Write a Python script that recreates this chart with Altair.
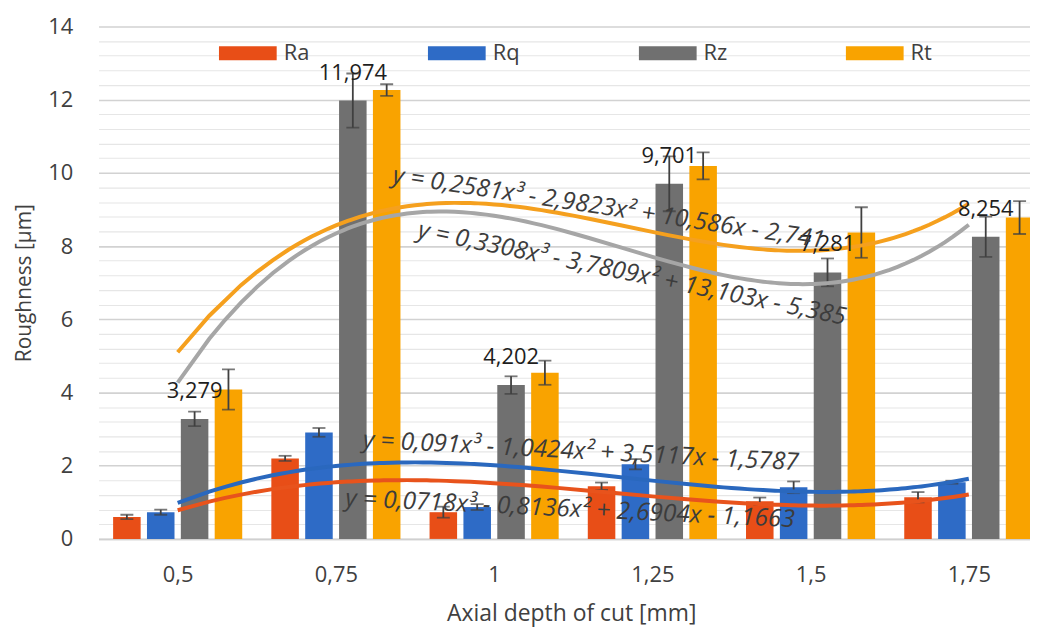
import altair as alt
import pandas as pd

# ---------------- data ----------------
depth_labels = ["0,5", "0,75", "1", "1,25", "1,5", "1,75"]
series_names = ["Ra", "Rq", "Rz", "Rt"]

ra = [0.60, 2.20, 0.73, 1.44, 1.03, 1.14]
rq = [0.73, 2.91, 0.87, 2.04, 1.41, 1.55]
rz = [3.279, 11.974, 4.202, 9.701, 7.281, 8.254]
rt = [4.08, 12.26, 4.54, 10.19, 8.37, 8.78]

ra_err = [0.06, 0.07, 0.15, 0.10, 0.10, 0.14]
rq_err = [0.07, 0.12, 0.08, 0.14, 0.16, 0.04]
rz_err = [0.20, 0.74, 0.24, 0.75, 0.38, 0.55]
rt_err = [0.55, 0.16, 0.33, 0.37, 0.69, 0.45]

equation_texts = [
    "y = 0,2581x³ - 2,9823x² + 10,586x - 2,741",
    "y = 0,3308x³ - 3,7809x² + 13,103x - 5,385",
    "y = 0,091x³ - 1,0424x² + 3,5117x - 1,5787",
    "y = 0,0718x³ - 0,8136x² + 2,6904x - 1,1663",
]
# annotation anchors in data units (category index, roughness) and angle
equation_x = [2.36, 2.52, 2.17, 2.06]
equation_y = [9.92, 8.43, 2.69, 1.09]
equation_angle = [8.6, 11.6, 3.0, 2.7]

y_ticks_minor = [round(i * 0.4, 1) for i in range(36)]

bar_colors = ["#E84E17", "#2E6BC6", "#707070", "#F9A300"]
trend_colors = ["#E8531C", "#2A68BE", "#A6A6A6", "#F5A01E"]

# ---------------- table ----------------
values = {"Ra": ra, "Rq": rq, "Rz": rz, "Rt": rt}
errors = {"Ra": ra_err, "Rq": rq_err, "Rz": rz_err, "Rt": rt_err}
rows = []
for s in series_names:
    for i, lab in enumerate(depth_labels):
        v = values[s][i]
        rows.append({
            "idx": i + 1,
            "depth": lab,
            "series": s,
            "value": v,
            "err": errors[s][i],
            "label": f"{v:.3f}".replace(".", ","),
        })
df = pd.DataFrame(rows)

eq_df = pd.DataFrame({
    "text": equation_texts,
    "ex": equation_x,
    "ey": equation_y,
    "ang": equation_angle,
})

FONT = "Open Sans"
STEP = 0.214     # offset between bars within a group (category units)
HALF = 0.087     # half bar width (category units)
X_DOMAIN = [0.5, 0.5 + 936 / 159]

xscale = alt.Scale(domain=X_DOMAIN, nice=False, zero=False)
yscale = alt.Scale(domain=[0, 14], nice=False, zero=True)

label_arr = "[" + ",".join(f"'{l}'" for l in depth_labels) + "]"
series_arr = "[" + ",".join(f"'{s}'" for s in series_names) + "]"

major_test = "abs(datum.value % 2) < 0.01 || abs(datum.value % 2 - 2) < 0.01"

x_axis = alt.Axis(
    values=[1, 2, 3, 4, 5, 6], tickCount=10,
    labelExpr=f"{label_arr}[datum.value - 1]",
    grid=False, ticks=False, tickSize=0,
    domainColor="#D0D0D0", domainWidth=1.5,
    labelFont=FONT, labelFontSize=22, labelColor="#404040",
    labelPadding=26, labelFlush=False, labelOverlap=False,
    title="Axial depth of cut [mm]", titleFont=FONT, titleFontSize=23,
    titleFontWeight="normal", titleColor="#404040",
    titleX=475, titleY=75, titleBaseline="middle", titleAlign="center",
)
y_axis = alt.Axis(
    values=y_ticks_minor, tickCount=40,
    labelExpr=f"({major_test}) ? format(datum.value, 'd') : ''",
    grid=True,
    gridColor={"condition": {"test": major_test, "value": "#D2D2D2"}, "value": "#E6E6E6"},
    gridWidth={"condition": {"test": major_test, "value": 1.6}, "value": 1.1},
    domain=False, ticks=False, tickSize=0,
    labelFont=FONT, labelFontSize=22, labelColor="#404040",
    labelPadding=26, labelOverlap=False, labelFlush=False,
    title="Roughness [µm]", titleFont=FONT, titleFontSize=21,
    titleFontWeight="normal", titleColor="#404040",
    titleX=-74, titleY=257.5, titleAngle=-90, titleBaseline="middle", titleAlign="center",
)

base = alt.Chart(df).transform_calculate(
    xc=f"datum.idx + (indexof({series_arr}, datum.series) - 1.5) * {STEP}",
).transform_calculate(
    x0=f"datum.xc - {HALF}",
    x1=f"datum.xc + {HALF}",
    lo="datum.value - datum.err",
    hi="datum.value + datum.err",
)

bars = base.mark_bar(clip=True).encode(
    x=alt.X("x0:Q", scale=xscale, axis=x_axis),
    x2="x1:Q",
    y=alt.Y("value:Q", scale=yscale, axis=y_axis),
    y2=alt.datum(0),
    color=alt.Color(
        "series:N",
        scale=alt.Scale(domain=series_names, range=bar_colors),
        legend=alt.Legend(
            orient="none", legendX=121, legendY=-2, direction="horizontal",
            title=None, symbolType="M-1,-0.24H1V0.24H-1Z", symbolSize=3364,
            symbolStrokeWidth=0, symbolOpacity=1,
            labelFont=FONT, labelFontSize=22, labelColor="#404040",
            labelOffset=7, columnPadding=119,
        ),
    ),
)

err_rule = base.mark_rule(color="#404040", strokeWidth=1.8, clip=True).encode(
    x="xc:Q", y="lo:Q", y2="hi:Q",
)
err_caps = base.transform_fold(["lo", "hi"], as_=["end", "yv"]).mark_tick(
    orient="horizontal", size=13, thickness=1.8, color="#404040", clip=True
).encode(x="xc:Q", y="yv:Q")

trend = alt.Chart(df).transform_regression(
    "idx", "value", groupby=["series"], method="poly", order=3, extent=[1, 6]
).mark_line(strokeWidth=4, clip=True).encode(
    x="idx:Q",
    y="value:Q",
    stroke=alt.Stroke("series:N", scale=alt.Scale(domain=series_names, range=trend_colors), legend=None),
)

rz_labels = base.transform_filter("datum.series == 'Rz'").mark_text(
    font=FONT, fontSize=22, color="#1E1E1E", dy=-28, baseline="middle", align="center"
).encode(x="xc:Q", y="value:Q", text="label:N")

eqs = alt.Chart(eq_df).mark_text(
    font=FONT, fontSize=24.5, fontStyle="italic", color="#3C3C3C",
    align="left", baseline="middle",
).encode(
    x=alt.X("ex:Q"), y=alt.Y("ey:Q"), text="text:N",
    angle=alt.Angle("ang:Q", scale=None),
)

chart = alt.layer(bars, err_rule, err_caps, trend, rz_labels, eqs).properties(
    width=936, height=515,
    autosize=alt.AutoSizeParams(type="none"),
    padding={"left": 91, "top": 17, "right": 0, "bottom": 88},
    background="white",
).configure_view(stroke=None)

chart.save("out.html", embed_options={"renderer": "svg", "actions": False})
